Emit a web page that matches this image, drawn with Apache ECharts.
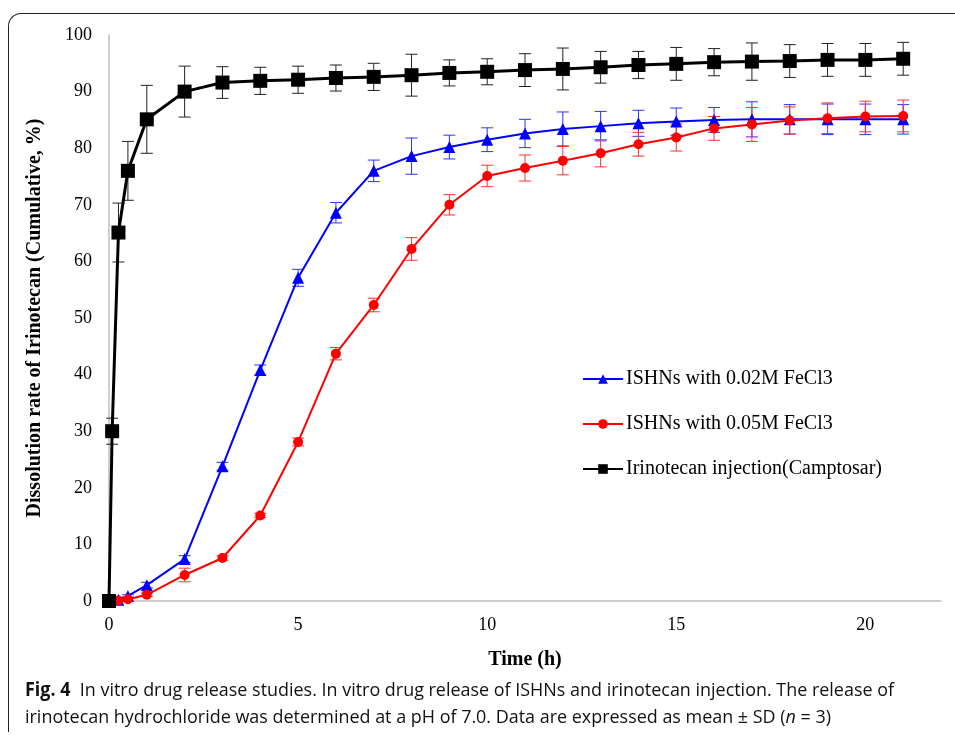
<!DOCTYPE html>
<html>
<head>
<meta charset="utf-8">
<script src="https://cdn.jsdelivr.net/npm/echarts@6/dist/echarts.min.js"></script>
<style>
  html, body { margin: 0; padding: 0; background: #fff; }
  #frame {
    position: absolute; left: 8px; top: 13px; width: 960px; height: 718px;
    border-top: 1px solid #222; border-left: 1px solid #222;
    border-top-left-radius: 13px;
  }
  #chart { position: absolute; left: 0; top: 0; width: 955px; height: 735px; }
  #caption {
    position: absolute; left: 25px; top: 676px; width: 980px;
    font-family: 'Open Sans', sans-serif;
    font-size: 19px; line-height: 27px; color: #111; white-space: nowrap;
    transform: scaleX(0.944); transform-origin: 0 0;
  }
  #caption b { font-weight: bold; font-size: 19px; }
</style>
</head>
<body>
<div id="frame"></div>
<div id="chart"></div>
<div id="caption"><b>Fig. 4</b>&nbsp; In vitro drug release studies. In vitro drug release of ISHNs and irinotecan injection. The release of<br>irinotecan hydrochloride was determined at a pH of 7.0. Data are expressed as mean ± SD (<i>n</i> = 3)</div>
<script>
// sampling times (h)
const timeHS = [0, 0.25, 0.5, 1, 2, 3, 4, 5, 6, 7, 8, 9, 10, 11, 12, 13, 14, 15, 16, 17, 18, 19, 20, 21]
const timeInj = [0, 0.083, 0.25, 0.5, 1, 2, 3, 4, 5, 6, 7, 8, 9, 10, 11, 12, 13, 14, 15, 16, 17, 18, 19, 20, 21]

// ISHNs with 0.02M FeCl3
const blueMean = [0, 0.2, 0.9, 2.8, 7.4, 23.8, 40.8, 57.1, 68.6, 76.0, 78.6, 80.2, 81.5, 82.6, 83.4, 83.9, 84.4, 84.7, 85.0, 85.1, 85.1, 85.1, 85.1, 85.1]
const blueSD = [0, 0, 0.2, 0.5, 0.6, 0.7, 0.9, 1.5, 1.8, 1.9, 3.2, 2.1, 2.1, 2.5, 3.0, 2.6, 2.3, 2.4, 2.2, 3.1, 2.6, 2.7, 2.7, 2.6]

// ISHNs with 0.05M FeCl3
const redMean = [0, 0.1, 0.3, 1.1, 4.6, 7.6, 15.1, 28.1, 43.7, 52.3, 62.2, 70.0, 75.1, 76.5, 77.8, 79.1, 80.7, 81.9, 83.5, 84.2, 84.9, 85.3, 85.6, 85.7]
const redSD = [0, 0, 0.2, 0.3, 1.2, 0.4, 0.4, 0.7, 1.1, 1.2, 2.0, 1.8, 1.9, 2.3, 2.5, 2.4, 2.1, 2.4, 2.1, 3.0, 2.4, 2.7, 2.7, 2.8]

// Irinotecan injection (Camptosar)
const blackMean = [0, 30.0, 65.1, 76.0, 85.1, 90.0, 91.6, 91.9, 92.1, 92.4, 92.6, 92.9, 93.3, 93.5, 93.8, 94.0, 94.3, 94.7, 94.9, 95.2, 95.3, 95.4, 95.6, 95.6, 95.8]
const blackSD = [0, 2.3, 5.2, 5.2, 6.0, 4.5, 2.8, 2.4, 2.4, 2.3, 2.4, 3.7, 2.3, 2.3, 2.9, 3.7, 2.8, 2.4, 2.9, 2.4, 3.3, 2.9, 2.9, 2.9, 2.9]

const yTicks = [0, 10, 20, 30, 40, 50, 60, 70, 80, 90, 100]
const xTicks = [0, 5, 10, 15, 20]

const serif = 'Liberation Serif'

function pairs (t, v) {
  return t.map((x, i) => [x, v[i]])
}
function triples (t, v, e) {
  return t.map((x, i) => [x, v[i], e[i]])
}

// vertical error bar with caps
function errorBars (data, color) {
  return {
    type: 'custom',
    data: data,
    z: 3,
    encode: { x: 0, y: 1 },
    renderItem: function (params, api) {
      let x = api.value(0)
      let m = api.value(1)
      let e = api.value(2)
      let hi = api.coord([x, m + e])
      let lo = api.coord([x, m - e])
      let w = 6
      let st = { stroke: color, lineWidth: 1 }
      return {
        type: 'group',
        children: [
          { type: 'line', shape: { x1: hi[0], y1: hi[1], x2: lo[0], y2: lo[1] }, style: st },
          { type: 'line', shape: { x1: hi[0] - w, y1: hi[1], x2: hi[0] + w, y2: hi[1] }, style: st },
          { type: 'line', shape: { x1: lo[0] - w, y1: lo[1], x2: lo[0] + w, y2: lo[1] }, style: st }
        ]
      }
    }
  }
}

let chart = echarts.init(document.getElementById('chart'))
chart.setOption({
  animation: false,
  grid: { left: 109, right: 14, top: 35, bottom: 134, containLabel: false },
  legend: {
    orient: 'vertical',
    left: 577,
    top: 364,
    itemWidth: 40,
    itemHeight: 12,
    itemGap: 25,
    textStyle: { fontFamily: serif, fontSize: 20, color: '#000', padding: [0, 0, 0, -2] },
    data: ['ISHNs with 0.02M FeCl3', 'ISHNs with 0.05M FeCl3', 'Irinotecan injection(Camptosar)']
  },
  xAxis: {
    type: 'value',
    min: 0,
    max: 22,
    interval: 5,
    name: 'Time (h)',
    nameLocation: 'middle',
    nameGap: 49,
    nameTextStyle: { fontFamily: serif, fontSize: 20, fontWeight: 'bold', color: '#000' },
    axisLine: { lineStyle: { color: '#bfbfbf', width: 1.5 } },
    axisTick: { show: false },
    splitLine: { show: false },
    axisLabel: {
      fontFamily: serif, fontSize: 18, color: '#000', margin: 15,
      showMaxLabel: false,
      formatter: v => (xTicks.indexOf(v) >= 0 ? String(v) : '')
    }
  },
  yAxis: {
    type: 'value',
    min: 0,
    max: 100,
    interval: 10,
    name: 'Dissolution rate of Irinotecan (Cumulative, %)',
    nameLocation: 'middle',
    nameGap: 64,
    nameRotate: 90,
    nameTextStyle: { fontFamily: serif, fontSize: 20, fontWeight: 'bold', color: '#000' },
    axisLine: { show: true, lineStyle: { color: '#bfbfbf', width: 1.5 } },
    axisTick: { show: false },
    splitLine: { show: false },
    axisLabel: {
      fontFamily: serif, fontSize: 18, color: '#000', margin: 17,
      formatter: v => (yTicks.indexOf(v) >= 0 ? String(v) : '')
    }
  },
  series: [
    {
      name: 'ISHNs with 0.02M FeCl3',
      type: 'line',
      data: pairs(timeHS, blueMean),
      color: '#0000ff',
      symbol: 'triangle',
      symbolSize: 12,
      lineStyle: { width: 2 },
      z: 4
    },
    {
      name: 'ISHNs with 0.05M FeCl3',
      type: 'line',
      data: pairs(timeHS, redMean),
      color: '#ff0000',
      symbol: 'circle',
      symbolSize: 10,
      lineStyle: { width: 2 },
      z: 4
    },
    {
      name: 'Irinotecan injection(Camptosar)',
      type: 'line',
      data: pairs(timeInj, blackMean),
      color: '#000000',
      symbol: 'rect',
      symbolSize: 14,
      lineStyle: { width: 3 },
      z: 5
    },
    errorBars(triples(timeHS, blueMean, blueSD), '#3030ff'),
    errorBars(triples(timeHS, redMean, redSD), '#ff3030'),
    errorBars(triples(timeInj, blackMean, blackSD), '#222222')
  ]
})
</script>
</body>
</html>
